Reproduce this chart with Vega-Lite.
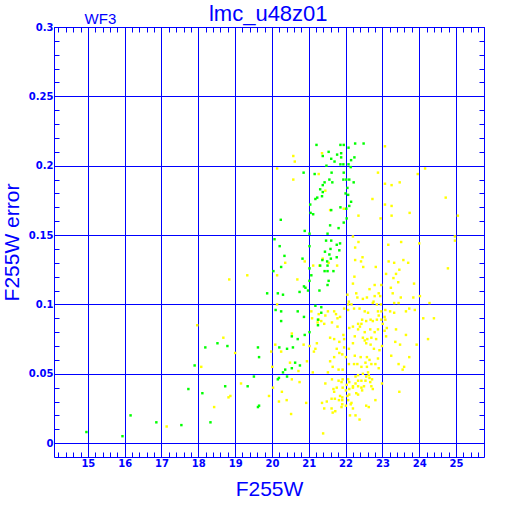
{
"$schema": "https://vega.github.io/schema/vega-lite/v6.json",
"width": 430, "height": 430,
"autosize": "none",
"padding": {"left": 54, "top": 27, "right": 28, "bottom": 55},
"background": "white",
"config": {"view": {"stroke": null}},
"datasets": {
"yellow": [[20.58,0.207],[20.62,0.203],[21.36,0.209],[20.14,0.198],[21.27,0.194],[20.58,0.190],[22.88,0.195],[21.45,0.182],[22.73,0.176],[21.58,0.168],[21.95,0.169],[22.35,0.164],[22.20,0.149],[22.35,0.145],[22.26,0.141],[22.46,0.134],[21.38,0.133],[21.54,0.130],[22.42,0.131],[21.12,0.128],[21.77,0.128],[22.26,0.132],[20.89,0.131],[20.36,0.130],[21.29,0.128],[20.14,0.121],[22.24,0.120],[22.82,0.127],[22.48,0.127],[20.69,0.118],
[23.17,0.131],[23.32,0.130],[23.57,0.132],[23.70,0.130],[23.46,0.125],[23.10,0.122],[23.37,0.122],[23.30,0.119],[24.78,0.126],
[23.43,0.116],[23.86,0.115],[22.20,0.115],[22.79,0.114],[22.97,0.114],[22.65,0.111],[22.90,0.108],[22.79,0.106],[22.94,0.106],[22.58,0.105],[22.29,0.108],[22.05,0.107],[22.32,0.105],[22.47,0.104],[22.76,0.102],[22.74,0.101],[22.85,0.100],[22.96,0.100],[23.28,0.108],[23.23,0.112],[23.44,0.101],[23.32,0.101],[23.50,0.105],[23.84,0.105],[24.02,0.106],[24.28,0.101],[23.88,0.096],[23.73,0.097],[23.64,0.095],[24.11,0.090],[24.40,0.090],[24.24,0.075],[22.09,0.102],[22.07,0.100],[22.16,0.100],[21.96,0.097],[22.23,0.097],[22.38,0.097],[22.52,0.095],[22.61,0.094],[22.88,0.095],[22.97,0.095],[23.08,0.096],[23.21,0.095],[23.32,0.094],[22.90,0.092],[23.06,0.091],[23.08,0.089],[22.97,0.089],[22.85,0.089],[22.68,0.089],[22.74,0.088],[22.56,0.088],[22.45,0.089],[23.01,0.086],[22.88,0.082],[22.79,0.080],[22.67,0.082],[23.06,0.081],[23.12,0.083],[23.37,0.082],[22.52,0.080],[22.70,0.076],[22.83,0.075],[22.59,0.075],[22.52,0.074],[22.56,0.072],[22.68,0.071],[22.77,0.068],[22.92,0.067],[23.24,0.063],[22.88,0.061],[22.81,0.057],[22.70,0.057],[22.58,0.055],[22.43,0.055],[22.32,0.057],[22.23,0.057],[22.09,0.057],[22.25,0.063],[22.41,0.062],[22.58,0.062],[22.65,0.060],[22.54,0.058],[22.90,0.054],[22.99,0.070],[23.10,0.077],[23.35,0.073],[23.48,0.071],[23.44,0.057],[23.55,0.053],[23.59,0.055],[23.73,0.062],[23.93,0.071],[23.64,0.078],[22.27,0.048],[22.34,0.049],[22.47,0.050],[22.56,0.048],[22.63,0.049],[22.61,0.051],[22.65,0.047],[22.54,0.045],[22.43,0.045],[22.34,0.045],[22.27,0.043],[22.20,0.041],[22.10,0.044],[22.07,0.046],[22.03,0.042],[22.10,0.039],[22.20,0.040],[22.34,0.041],[22.43,0.040],[22.50,0.041],[22.67,0.044],[22.70,0.041],[22.74,0.039],[22.45,0.038],[22.29,0.036],[22.34,0.035],[22.10,0.035],[22.01,0.038],[21.92,0.040],[21.89,0.044],[21.92,0.046],[21.81,0.045],[21.76,0.040],[21.67,0.039],[21.63,0.046],[21.52,0.051],[21.45,0.043],[21.69,0.037],[21.85,0.034],[21.91,0.033],[21.91,0.031],[21.82,0.031],[21.71,0.032],[21.62,0.032],[21.49,0.030],[21.36,0.029],[21.42,0.025],[21.62,0.025],[21.91,0.028],[22.01,0.027],[22.16,0.029],[22.20,0.025],[22.27,0.020],[22.38,0.017],[22.12,0.020],[21.65,0.022],[21.72,0.023],[21.89,0.026],[22.05,0.034],[22.07,0.031],[22.56,0.027],[22.63,0.026],[22.81,0.031],[23.46,0.037],[22.99,0.043],[22.72,0.046],[21.11,0.051],[21.22,0.072],[21.18,0.068],[21.14,0.066],[21.27,0.089],[21.24,0.087],[21.45,0.092],[21.52,0.095],[21.69,0.095],[21.74,0.093],[21.85,0.091],[21.78,0.090],[21.63,0.087],[21.78,0.084],[21.94,0.078],[21.83,0.073],[21.96,0.075],[21.69,0.075],[21.58,0.076],[21.76,0.068],[21.91,0.064],[21.69,0.062],[21.58,0.059],[21.65,0.055],[21.81,0.053],[21.92,0.053],[21.83,0.065],[21.96,0.069],[22.01,0.062],[22.09,0.068],[22.20,0.072],[22.25,0.077],[22.34,0.082],[22.39,0.084],[22.43,0.086],[22.34,0.086],[22.47,0.076],[22.10,0.083],[22.07,0.096],[22.20,0.084],[21.27,0.093],[21.07,0.095],[21.34,0.088],[21.42,0.086],[21.09,0.090],[22.14,0.028],
[20.86,0.071],[21.02,0.070],[20.95,0.059],[20.75,0.044],[20.93,0.029],
[19.33,0.121],[18.84,0.118],[20.14,0.100],[20.54,0.079],[20.09,0.071],[19.98,0.066],[20.25,0.066],[19.00,0.065],[20.49,0.058],[20.72,0.052],[20.54,0.046],[19.16,0.043],[20.03,0.040],[18.87,0.034],[19.92,0.034],[20.27,0.037],[20.19,0.030],[20.40,0.031],[20.52,0.021],[20.01,0.055],
[17.97,0.085],[18.68,0.076],[18.08,0.055],[17.14,0.012],[18.43,0.026],[18.82,0.033],[21.39,0.007],
[23.07,0.214],[24.16,0.198],[23.96,0.194],[23.07,0.187],[23.25,0.186],[23.47,0.188],[24.72,0.177],[23.07,0.172],[23.25,0.171],[23.25,0.164],[23.74,0.166],[22.95,0.162],[25.05,0.164],[24.97,0.149],[24.97,0.146],[23.16,0.143],[23.51,0.145],[24.00,0.144]],
"green": [[21.21,0.215],[21.86,0.215],[21.95,0.215],[22.08,0.213],[22.26,0.216],[22.49,0.216],[21.54,0.210],[21.38,0.207],[21.61,0.205],[21.77,0.208],[21.88,0.209],[21.88,0.206],[21.70,0.203],[21.86,0.201],[21.94,0.201],[22.08,0.201],[22.15,0.204],[22.24,0.206],[21.48,0.200],[22.14,0.199],[20.86,0.195],[21.16,0.194],[21.62,0.195],[21.95,0.195],[21.94,0.190],[22.02,0.190],[22.10,0.190],[22.22,0.188],[21.56,0.190],[21.43,0.188],[21.64,0.188],[21.38,0.186],[22.05,0.184],[21.31,0.183],[21.38,0.181],[22.00,0.180],[22.07,0.179],[21.23,0.177],[21.36,0.178],[21.18,0.176],[22.15,0.174],[21.04,0.172],[22.10,0.171],[21.86,0.170],[22.02,0.169],[21.61,0.168],[21.05,0.166],[21.12,0.165],[22.03,0.162],[20.24,0.161],[21.95,0.159],[21.58,0.157],[21.81,0.155],[20.89,0.153],[21.02,0.151],[21.51,0.151],[20.07,0.147],[21.47,0.146],[21.61,0.146],[21.85,0.144],[21.76,0.143],[20.21,0.142],[21.59,0.140],[21.02,0.142],[21.83,0.139],[21.44,0.138],[21.56,0.136],[20.34,0.135],[21.76,0.134],[20.83,0.133],[21.60,0.133],[21.37,0.132],[21.50,0.131],[21.31,0.128],[20.25,0.127],[21.02,0.126],[21.51,0.128],[21.43,0.124],[21.51,0.124],[21.67,0.124],[20.04,0.124],[21.07,0.121],
[21.02,0.117],[21.54,0.117],[21.51,0.114],[21.29,0.110],[21.18,0.099],[21.34,0.098],[21.34,0.094],[21.25,0.089],[21.25,0.085],[20.87,0.113],[20.91,0.112],[20.98,0.110],[20.75,0.109],[20.87,0.091],[21.02,0.080],[20.89,0.078],[20.76,0.056],
[19.87,0.108],[20.16,0.108],[20.30,0.107],[20.10,0.096],[20.25,0.095],[20.70,0.095],[20.25,0.088],[20.54,0.077],[20.70,0.075],[19.62,0.069],[20.20,0.069],[20.41,0.068],[20.57,0.069],[19.65,0.062],[20.63,0.058],[20.36,0.053],[20.54,0.054],[20.30,0.051],[19.51,0.048],[20.19,0.047],[20.16,0.046],[20.41,0.048],[19.34,0.041],[19.65,0.027],[19.62,0.026],
[14.96,0.008],[15.94,0.005],[16.16,0.020],[16.86,0.015],[17.54,0.013],[18.33,0.015],[17.73,0.039],[18.11,0.036],[17.90,0.056],[18.19,0.069],[18.52,0.072],[18.79,0.070],[18.73,0.041]]
},
"layer": [
{
"data": {"name": "yellow"},
"transform": [{"calculate": "datum[0]", "as": "mag"}, {"calculate": "datum[1]", "as": "err"}],
"mark": {"type": "square", "size": 6, "opacity": 1, "color": "#ffff00"},
"encoding": {
"x": {"field": "mag", "type": "quantitative", "scale": {"domain": [14.08, 25.76], "nice": false, "zero": false},
 "axis": {"orient": "bottom", "values": [14.2,14.4,14.6,14.8,15,15.2,15.4,15.6,15.8,16,16.2,16.4,16.6,16.8,17,17.2,17.4,17.6,17.8,18,18.2,18.4,18.6,18.8,19,19.2,19.4,19.6,19.8,20,20.2,20.4,20.6,20.8,21,21.2,21.4,21.6,21.8,22,22.2,22.4,22.6,22.8,23,23.2,23.4,23.6,23.8,24,24.2,24.4,24.6,24.8,25,25.2,25.4,25.6],
  "title": "F255W", "titleFont": "Liberation Sans", "titleFontSize": 21, "titleFontWeight": "normal", "titleColor": "#0000ff", "titlePadding": 10,
  "labelExpr": "abs(datum.value-round(datum.value))<0.001 ? format(datum.value,'d') : ''",
  "labelFont": "DejaVu Sans", "labelFontWeight": "bold", "labelFontSize": 10, "labelColor": "#0000ff", "labelPadding": 6, "labelOverlap": false, "labelFlush": false, "labelBound": false,
  "tickSize": -5, "tickColor": "#0000ff", "tickWidth": 1, "domainColor": "#0000ff", "domainWidth": 1,
  "grid": true, "gridColor": "#0000ff", "gridWidth": 1,
  "gridOpacity": {"condition": {"test": "abs(datum.value-round(datum.value))<0.001", "value": 1}, "value": 0}}},
"y": {"field": "err", "type": "quantitative", "scale": {"domain": [-0.01, 0.3], "nice": false, "zero": false},
 "axis": {"orient": "left", "values": [0,0.01,0.02,0.03,0.04,0.05,0.06,0.07,0.08,0.09,0.1,0.11,0.12,0.13,0.14,0.15,0.16,0.17,0.18,0.19,0.2,0.21,0.22,0.23,0.24,0.25,0.26,0.27,0.28,0.29,0.3],
  "title": "F255W error", "titleFont": "Liberation Sans", "titleFontSize": 21, "titleFontWeight": "normal", "titleColor": "#0000ff", "titlePadding": 6,
  "labelExpr": "abs(datum.value*20-round(datum.value*20))<0.001 ? format(datum.value,'~g') : ''",
  "labelFont": "DejaVu Sans", "labelFontWeight": "bold", "labelFontSize": 10, "labelColor": "#0000ff", "labelPadding": 6, "labelOverlap": false, "labelFlush": false, "labelBound": false,
  "tickSize": -5, "tickColor": "#0000ff", "tickWidth": 1, "domainColor": "#0000ff", "domainWidth": 1,
  "grid": true, "gridColor": "#0000ff", "gridWidth": 1,
  "gridOpacity": {"condition": {"test": "abs(datum.value*20-round(datum.value*20))<0.001", "value": 1}, "value": 0}}}
}
},
{
"data": {"name": "green"},
"transform": [{"calculate": "datum[0]", "as": "mag"}, {"calculate": "datum[1]", "as": "err"}],
"mark": {"type": "square", "size": 6, "opacity": 1, "color": "#00ff00"},
"encoding": {
"x": {"field": "mag", "type": "quantitative",
 "axis": {"orient": "top", "values": [14.2,14.4,14.6,14.8,15,15.2,15.4,15.6,15.8,16,16.2,16.4,16.6,16.8,17,17.2,17.4,17.6,17.8,18,18.2,18.4,18.6,18.8,19,19.2,19.4,19.6,19.8,20,20.2,20.4,20.6,20.8,21,21.2,21.4,21.6,21.8,22,22.2,22.4,22.6,22.8,23,23.2,23.4,23.6,23.8,24,24.2,24.4,24.6,24.8,25,25.2,25.4,25.6],
  "title": null, "labels": false, "grid": false, "tickSize": -5, "tickColor": "#0000ff", "domainColor": "#0000ff"}},
"y": {"field": "err", "type": "quantitative",
 "axis": {"orient": "right", "values": [0,0.01,0.02,0.03,0.04,0.05,0.06,0.07,0.08,0.09,0.1,0.11,0.12,0.13,0.14,0.15,0.16,0.17,0.18,0.19,0.2,0.21,0.22,0.23,0.24,0.25,0.26,0.27,0.28,0.29,0.3],
  "title": null, "labels": false, "grid": false, "tickSize": -5, "tickColor": "#0000ff", "domainColor": "#0000ff"}}
}
},
{
"data": {"values": [{"label": "WF3", "mag": 15.34, "err": 0.3}]},
"mark": {"type": "text", "font": "Liberation Sans", "fontSize": 15, "color": "#0000ff", "align": "center", "baseline": "alphabetic", "dy": -3},
"encoding": {
"x": {"field": "mag", "type": "quantitative", "axis": null},
"y": {"field": "err", "type": "quantitative", "axis": null},
"text": {"field": "label"}
}
},
{
"data": {"values": [{"label": "lmc_u48z01", "mag": 19.9, "err": 0.3}]},
"mark": {"type": "text", "font": "Liberation Sans", "fontSize": 22, "color": "#0000ff", "align": "center", "baseline": "alphabetic", "dy": -6},
"encoding": {
"x": {"field": "mag", "type": "quantitative", "axis": null},
"y": {"field": "err", "type": "quantitative", "axis": null},
"text": {"field": "label"}
}
}
],
"resolve": {"axis": {"x": "independent", "y": "independent"}}
}
